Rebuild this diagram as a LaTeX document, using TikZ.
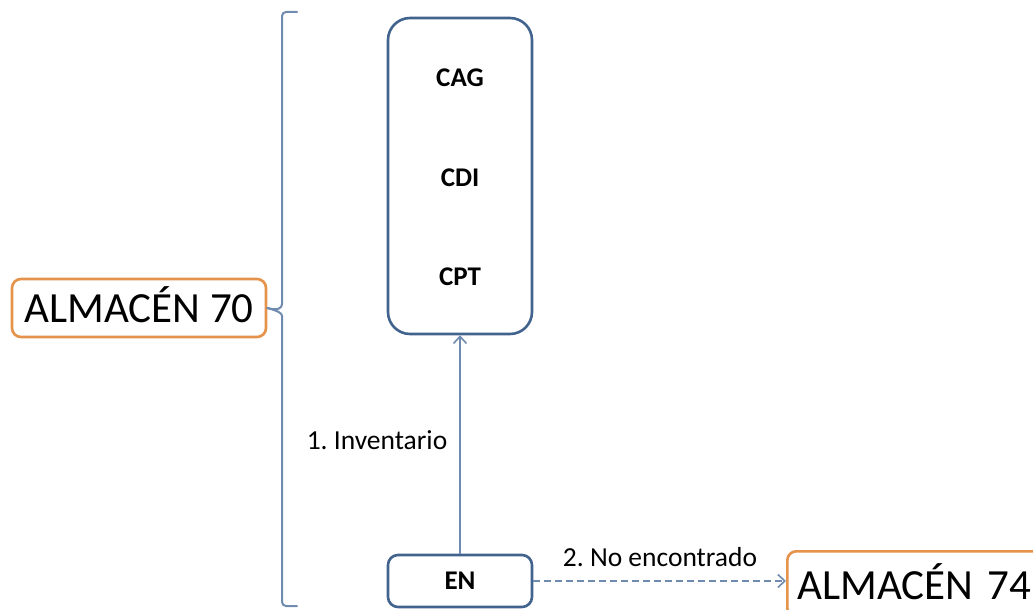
\documentclass[tikz,border=0pt]{standalone}
\usepackage{fontspec}
\setmainfont{Carlito}
\usetikzlibrary{arrows.meta}
\frenchspacing
\definecolor{boxblue}{HTML}{41638E}
\definecolor{lineblue}{HTML}{6F8BAF}
\definecolor{warmorange}{HTML}{E5924A}
\tikzset{
  bluebox/.style={draw=boxblue, line width=2.6pt, rounded corners=22pt, fill=white, inner sep=0pt},
  storebox/.style={draw=warmorange, line width=2.6pt, rounded corners=9pt, fill=white, inner sep=0pt,
    font=\fontsize{43}{45}\selectfont},
  code/.style={font=\fontsize{27}{29}\selectfont\bfseries},
  lbl/.style={font=\fontsize{27.5}{29}\selectfont},
  link/.style={draw=lineblue, line width=1.6pt, -{Straight Barb[length=7pt,width=13pt,line width=1.6pt]}},
  bracket/.style={draw=lineblue, line width=2pt, line cap=round, rounded corners=4pt}
}
\begin{document}
\begin{tikzpicture}[x=1pt,y=-1pt]
\useasboundingbox (0,0) rectangle (1033,610);

% almacenes
\node[storebox, minimum width=254pt, minimum height=58pt, text height=32pt, text depth=4pt]
  (a70) at (139,308) {ALMACÉN 70};
\node[storebox, anchor=north west, minimum width=270pt, minimum height=66pt,
  text width=250pt, inner xsep=10pt, align=left, text height=37pt, text depth=7pt]
  (a74) at (786,550) {ALMACÉN 74};

% grouping bracket
\draw[bracket] (297,12) -- (282,12) -- (282,300)
  .. controls (282,308) and (278,311) .. (a70.east);
\draw[bracket] (297,606) -- (282,606) -- (282,320)
  .. controls (282,313) and (278,311) .. (a70.east);

% centros
\node[bluebox, minimum width=144pt, minimum height=316pt] (centros) at (460,176) {};
\node[code] (cag) at (460,78) {CAG};
\node[code] (cdi) at (460,178) {CDI};
\node[code] (cpt) at (460,277) {CPT};

\node[bluebox, rounded corners=10pt, minimum width=144pt, minimum height=52pt, code] (en) at (460,581) {EN};

% flujos
\draw[link] (en.north) -- (centros.south);
\node[lbl] (inv) at (377,440) {1. Inventario};
\draw[link, dashed, dash pattern=on 7pt off 4pt] (en.east) -- (a74.west |- en.east);
\node[lbl] (noenc) at (660,557) {2. No encontrado};
\end{tikzpicture}
\end{document}
